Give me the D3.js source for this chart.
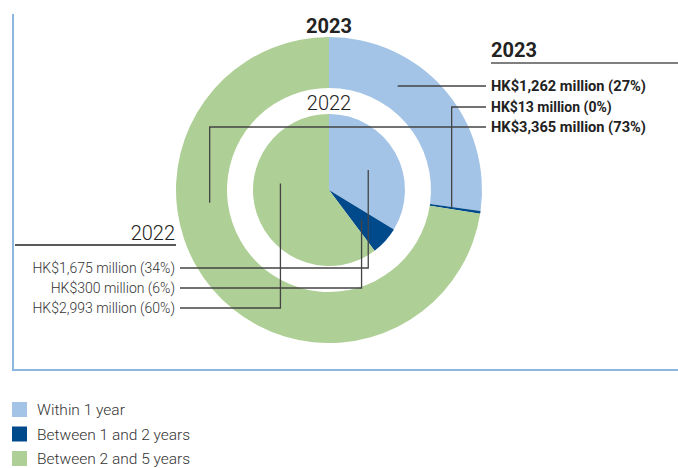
<!DOCTYPE html>
<html>
<head>
<meta charset="utf-8">
<script src="https://cdn.jsdelivr.net/npm/d3@7"></script>
<style>
  html, body { margin: 0; padding: 0; background: #fff; }
  svg { display: block; font-family: Roboto, "Noto Sans", sans-serif; }
</style>
</head>
<body>
<svg id="chart" width="678" height="468"></svg>
<script>
// Maturity buckets (HK$ million)
const categories = ["Within 1 year", "Between 1 and 2 years", "Between 2 and 5 years"];
const values2023 = [1262, 13, 3365];
const values2022 = [1675, 300, 2993];
const labels2023 = ["HK$1,262 million (27%)", "HK$13 million (0%)", "HK$3,365 million (73%)"];
const labels2022 = ["HK$1,675 million (34%)", "HK$300 million (6%)", "HK$2,993 million (60%)"];
const colors = ["#a3c4e6", "#004a8b", "#aecf95"];

const svg = d3.select("#chart");
const cx = 329, cy = 190;
const outerR = 153, ringInnerR = 102, innerR = 76;

const pie = d3.pie().sort(null).value(d => d);
const arcs2023 = pie(values2023);
const arcs2022 = pie(values2022);

const colorScale = d3.scaleOrdinal().domain(d3.range(categories.length)).range(colors);

// Frame
svg.append("path")
  .attr("d", "M13,14 V370 H678")
  .attr("fill", "none").attr("stroke", "#8db6de").attr("stroke-width", 2);

const g = svg.append("g").attr("transform", `translate(${cx},${cy})`);

// Outer ring: 2023
g.selectAll("path.outer").data(arcs2023).join("path")
  .attr("class", "outer")
  .attr("d", d3.arc().innerRadius(ringInnerR).outerRadius(outerR))
  .attr("fill", (d, i) => colorScale(i));

// Inner pie: 2022
g.selectAll("path.inner").data(arcs2022).join("path")
  .attr("class", "inner")
  .attr("d", d3.arc().innerRadius(0).outerRadius(innerR))
  .attr("fill", (d, i) => colorScale(i));

// Point inside a slice: fraction along its sweep, at radius r
function slicePoint(a, frac, r) {
  const ang = a.startAngle + (a.endAngle - a.startAngle) * frac;
  return [cx + r * Math.sin(ang), cy - r * Math.cos(ang)];
}

// Ring titles
svg.append("text").attr("x", cx).attr("y", 33).attr("text-anchor", "middle")
  .attr("font-size", 20).attr("font-weight", 700).attr("fill", "#222").text("2023");
svg.append("text").attr("x", cx).attr("y", 110).attr("text-anchor", "middle")
  .attr("font-size", 20).attr("font-weight", 300).attr("fill", "#222").text("2022");

const leader = svg.append("g").attr("fill", "none").attr("stroke", "#444").attr("stroke-width", 1.3);

// 2023 labels (right)
const rx = 491;
svg.append("text").attr("x", rx).attr("y", 57).attr("font-size", 20).attr("font-weight", 700)
  .attr("fill", "#222").text("2023");
svg.append("line").attr("x1", rx).attr("x2", 678).attr("y1", 63).attr("y2", 63)
  .attr("stroke", "#555").attr("stroke-width", 1.5);
const rowY2023 = [86, 107, 127];
const anchors2023 = [
  slicePoint(arcs2023[0], 0.343, 125),
  slicePoint(arcs2023[1], 0.5, 124),
  slicePoint(arcs2023[2], 0.632, 120)
];
labels2023.forEach((t, i) => {
  svg.append("text").attr("x", rx).attr("y", rowY2023[i]).attr("dy", "0.36em")
    .attr("font-size", 14).attr("font-weight", 700).attr("fill", "#222")
    .attr("textLength", i === 1 ? null : 155).attr("lengthAdjust", "spacingAndGlyphs")
    .text(t);
  const [ax, ay] = anchors2023[i];
  leader.append("path").attr("d", `M${rx - 5},${rowY2023[i]} H${ax} V${ay}`);
});

// 2022 labels (left)
const lx = 175;
svg.append("text").attr("x", lx).attr("y", 240).attr("text-anchor", "end")
  .attr("font-size", 20).attr("font-weight", 300).attr("fill", "#222").text("2022");
svg.append("line").attr("x1", 15).attr("x2", 176).attr("y1", 245).attr("y2", 245)
  .attr("stroke", "#222").attr("stroke-width", 1.3);
const rowY2022 = [268, 288, 308];
const anchors2022 = [
  slicePoint(arcs2022[0], 0.52, 44),
  slicePoint(arcs2022[1], 0.5, 44),
  slicePoint(arcs2022[2], 0.62, 49)
];
labels2022.forEach((t, i) => {
  svg.append("text").attr("x", lx).attr("y", rowY2022[i]).attr("dy", "0.36em")
    .attr("text-anchor", "end").attr("font-size", 14).attr("font-weight", 300)
    .attr("fill", "#333").text(t);
  const [ax, ay] = anchors2022[i];
  leader.append("path").attr("d", `M${lx + 5},${rowY2022[i]} H${ax} V${ay}`);
});

// Legend
const legend = svg.append("g").attr("transform", "translate(12,402)");
categories.forEach((c, i) => {
  const row = legend.append("g").attr("transform", `translate(0,${i * 24.5})`);
  row.append("rect").attr("width", 15).attr("height", 15).attr("fill", colorScale(i));
  row.append("text").attr("x", 25).attr("y", 8).attr("dy", "0.34em")
    .attr("font-size", 15.5).attr("font-weight", 300).attr("fill", "#333").text(c);
});
</script>
</body>
</html>
